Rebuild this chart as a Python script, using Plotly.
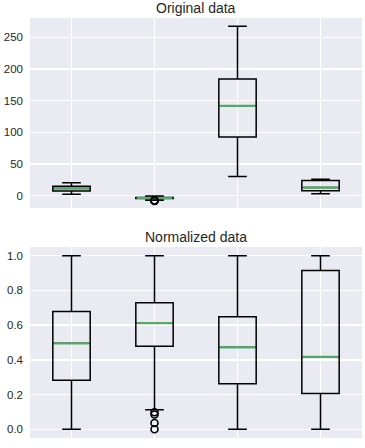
import plotly.graph_objects as go

positions = [1, 2, 3, 4]

# Original data
orig_low = [2.5, -7.34, 30.5, 3.2]
orig_q1 = [7.5, -4.57, 92.8, 7.9]
orig_median = [11.5, -3.55, 141.8, 12.9]
orig_q3 = [14.8, -2.66, 184.2, 23.9]
orig_high = [20.5, -0.6, 267.5, 25.9]
orig_outlier_pos = [2, 2, 2, 2]
orig_outliers = [-7.46, -7.55, -7.93, -8.2]

# Normalized data
norm_low = [0.0, 0.113, 0.0, 0.0]
norm_q1 = [0.282, 0.478, 0.263, 0.207]
norm_median = [0.495, 0.612, 0.472, 0.418]
norm_q3 = [0.679, 0.729, 0.649, 0.914]
norm_high = [1.0, 1.0, 1.0, 1.0]
norm_outlier_pos = [2, 2, 2, 2]
norm_outliers = [0.098, 0.085, 0.036, 0.0]

top_ticks = [0, 50, 100, 150, 200, 250]
bottom_ticks = [0.0, 0.2, 0.4, 0.6, 0.8, 1.0]

BOX_W = 0.45
TXT = "#262626"
FONT = "Liberation Sans, Arial, sans-serif"
MED = "#55A868"

fig = go.Figure()


def add_panel(xa, ya, low, q1, med, q3, high, opos, outs):
    fig.add_trace(go.Box(
        x=positions, q1=q1, median=med, q3=q3, lowerfence=low, upperfence=high,
        width=BOX_W, whiskerwidth=0.5, boxpoints=False,
        line=dict(color="black", width=1.5), fillcolor="rgba(0,0,0,0)",
        xaxis=xa, yaxis=ya, showlegend=False, hoverinfo="skip"))
    mx, my = [], []
    for p, m in zip(positions, med):
        mx += [p - BOX_W / 2 + 0.01, p + BOX_W / 2 - 0.01, None]
        my += [m, m, None]
    fig.add_trace(go.Scatter(x=mx, y=my, mode="lines",
                             line=dict(color=MED, width=2.2),
                             xaxis=xa, yaxis=ya, showlegend=False, hoverinfo="skip"))
    fig.add_trace(go.Scatter(x=opos, y=outs, mode="markers",
                             marker=dict(symbol="circle-open", size=7, color="black",
                                         line=dict(width=1.6, color="black")),
                             xaxis=xa, yaxis=ya, showlegend=False, hoverinfo="skip"))


add_panel("x", "y", orig_low, orig_q1, orig_median, orig_q3, orig_high,
          orig_outlier_pos, orig_outliers)
add_panel("x2", "y2", norm_low, norm_q1, norm_median, norm_q3, norm_high,
          norm_outlier_pos, norm_outliers)

H_PLOT = 448 - 18 - 10
top_dom = [1 - 190 / H_PLOT, 1]
bot_dom = [0, 191 / H_PLOT]

xcommon = dict(range=[0.5, 4.5], tickvals=positions, showticklabels=False,
               showgrid=True, gridcolor="white", gridwidth=1.5, zeroline=False,
               showline=False, ticks="", fixedrange=True)
ycommon = dict(showgrid=True, gridcolor="white", gridwidth=1.5, zeroline=False,
               showline=False, ticks="", ticklabelstandoff=6,
               tickfont=dict(family=FONT, size=11.5, color=TXT))

fig.update_layout(
    width=365, height=448,
    margin=dict(l=30, r=3, t=18, b=10),
    plot_bgcolor="#EAEAF2", paper_bgcolor="white",
    showlegend=False,
    xaxis=dict(domain=[0, 1], anchor="y", **xcommon),
    yaxis=dict(domain=top_dom, anchor="x", range=[-19.4, 280.5],
               tickvals=top_ticks, ticktext=[str(t) for t in top_ticks], **ycommon),
    xaxis2=dict(domain=[0, 1], anchor="y2", **xcommon),
    yaxis2=dict(domain=bot_dom, anchor="x2", range=[-0.05, 1.05],
                tickvals=bottom_ticks, ticktext=[f"{t:.1f}" for t in bottom_ticks], **ycommon),
    annotations=[
        dict(text="Original data", xref="x domain", yref="y domain", x=0.5, y=1,
             xanchor="center", yanchor="bottom", yshift=0, showarrow=False,
             font=dict(family=FONT, size=14, color=TXT)),
        dict(text="Normalized data", xref="x2 domain", yref="y2 domain", x=0.5, y=1,
             xanchor="center", yanchor="bottom", yshift=0, showarrow=False,
             font=dict(family=FONT, size=14, color=TXT)),
    ],
)

fig.write_html("out.html",
               config={"displayModeBar": False, "staticPlot": True},
               post_script="document.body.style.margin='0';document.body.style.overflow='hidden';")
